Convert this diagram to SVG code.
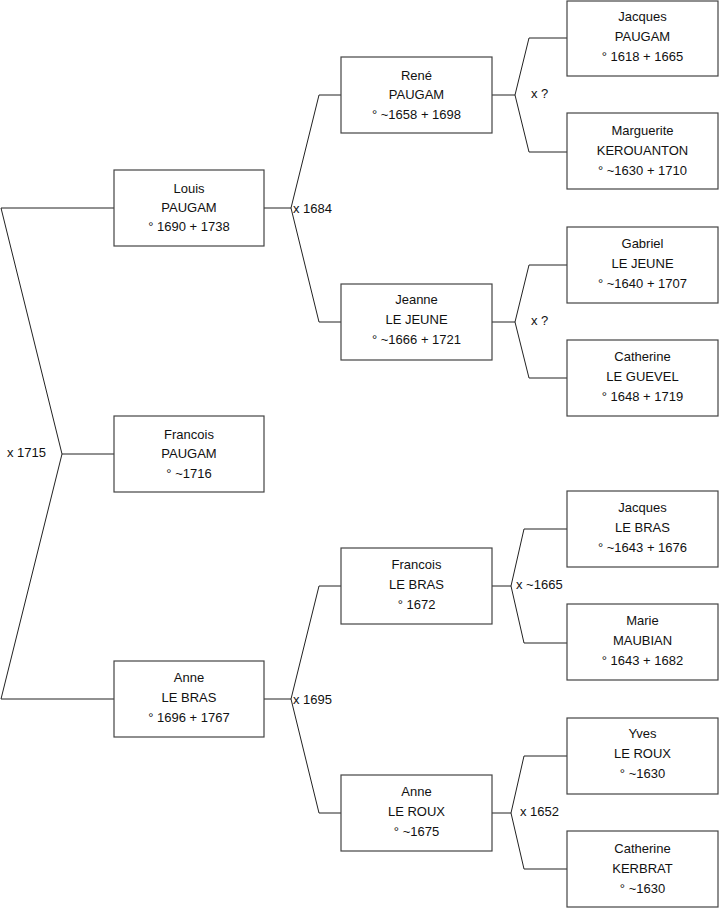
<svg xmlns="http://www.w3.org/2000/svg" width="719" height="908" viewBox="0 0 719 908">
<style>
.box{fill:#fff;stroke:#444;stroke-width:1.2}
text{font-family:"Liberation Sans",Arial,sans-serif;font-size:13px;fill:#111}
.n text{text-anchor:middle}
.c{fill:none;stroke:#222;stroke-width:1}
</style>
<rect width="719" height="908" fill="#fff"/>
<g id="connectors">
<polyline class="c" points="114,208 1,208 62,454 1,699 114,699"/>
<line class="c" x1="62" y1="454" x2="114" y2="454"/>
<polyline class="c" points="264,208 291,208"/>
<polyline class="c" points="341,95 319,95 291,208 319,322 341,322"/>
<polyline class="c" points="264,699 291,699"/>
<polyline class="c" points="341,586 319,586 291,699 319,813 341,813"/>
<polyline class="c" points="492,95 515,95"/>
<polyline class="c" points="567,38 529,38 515,95 529,152 567,152"/>
<polyline class="c" points="492,322 515,322"/>
<polyline class="c" points="567,265 529,265 515,322 529,378 567,378"/>
<polyline class="c" points="492,586 511,586"/>
<polyline class="c" points="567,529 524,529 511,586 524,643 567,643"/>
<polyline class="c" points="492,813 511,813"/>
<polyline class="c" points="567,756 524,756 511,813 524,869 567,869"/>
<text x="7" y="457">x 1715</text>
<text x="293" y="212.5">x 1684</text>
<text x="293" y="703.5">x 1695</text>
<text x="531" y="97.5">x ?</text>
<text x="531" y="324.5">x ?</text>
<text x="516" y="588.5">x ~1665</text>
<text x="520" y="815.5">x 1652</text>
</g>
<g id="louis" class="n"><rect class="box" x="114" y="170" width="150" height="76"/><text x="189" y="192.5">Louis</text><text x="189" y="211.5">PAUGAM</text><text x="189" y="230.5">° 1690 + 1738</text></g>
<g id="francois" class="n"><rect class="box" x="114" y="416" width="150" height="76"/><text x="189" y="438.5">Francois</text><text x="189" y="457.5">PAUGAM</text><text x="189" y="477.5">° ~1716</text></g>
<g id="anne" class="n"><rect class="box" x="114" y="661" width="150" height="76"/><text x="189" y="681.5">Anne</text><text x="189" y="701.5">LE BRAS</text><text x="189" y="721.5">° 1696 + 1767</text></g>
<g id="rene" class="n"><rect class="box" x="341" y="57" width="151" height="76"/><text x="416.5" y="79.5">René</text><text x="416.5" y="98.5">PAUGAM</text><text x="416.5" y="118.5">° ~1658 + 1698</text></g>
<g id="jeanne" class="n"><rect class="box" x="341" y="284" width="151" height="76"/><text x="416.5" y="303.5">Jeanne</text><text x="416.5" y="323.5">LE JEUNE</text><text x="416.5" y="343.5">° ~1666 + 1721</text></g>
<g id="francois-lebras" class="n"><rect class="box" x="341" y="548" width="151" height="76"/><text x="416.5" y="568.5">Francois</text><text x="416.5" y="588.5">LE BRAS</text><text x="416.5" y="608.5">° 1672</text></g>
<g id="anne-leroux" class="n"><rect class="box" x="341" y="775" width="151" height="76"/><text x="416.5" y="795.5">Anne</text><text x="416.5" y="815.5">LE ROUX</text><text x="416.5" y="835.5">° ~1675</text></g>
<g id="jacques-paugam" class="n"><rect class="box" x="567" y="1" width="151" height="75"/><text x="642.5" y="20.5">Jacques</text><text x="642.5" y="40.5">PAUGAM</text><text x="642.5" y="60.5">° 1618 + 1665</text></g>
<g id="marguerite" class="n"><rect class="box" x="567" y="113" width="151" height="76"/><text x="642.5" y="134.5">Marguerite</text><text x="642.5" y="154.5">KEROUANTON</text><text x="642.5" y="174.5">° ~1630 + 1710</text></g>
<g id="gabriel" class="n"><rect class="box" x="567" y="227" width="151" height="76"/><text x="642.5" y="247.5">Gabriel</text><text x="642.5" y="267.5">LE JEUNE</text><text x="642.5" y="287.5">° ~1640 + 1707</text></g>
<g id="catherine-leguevel" class="n"><rect class="box" x="567" y="340" width="151" height="76"/><text x="642.5" y="360.5">Catherine</text><text x="642.5" y="380.5">LE GUEVEL</text><text x="642.5" y="400.5">° 1648 + 1719</text></g>
<g id="jacques-lebras" class="n"><rect class="box" x="567" y="491" width="151" height="76"/><text x="642.5" y="511.5">Jacques</text><text x="642.5" y="531.5">LE BRAS</text><text x="642.5" y="551.5">° ~1643 + 1676</text></g>
<g id="marie" class="n"><rect class="box" x="567" y="604" width="151" height="76"/><text x="642.5" y="624.5">Marie</text><text x="642.5" y="644.5">MAUBIAN</text><text x="642.5" y="664.5">° 1643 + 1682</text></g>
<g id="yves" class="n"><rect class="box" x="567" y="718" width="151" height="76"/><text x="642.5" y="737.5">Yves</text><text x="642.5" y="757.5">LE ROUX</text><text x="642.5" y="777.5">° ~1630</text></g>
<g id="catherine-kerbrat" class="n"><rect class="box" x="567" y="831" width="151" height="76"/><text x="642.5" y="852.5">Catherine</text><text x="642.5" y="872.5">KERBRAT</text><text x="642.5" y="892.5">° ~1630</text></g>
</svg>
